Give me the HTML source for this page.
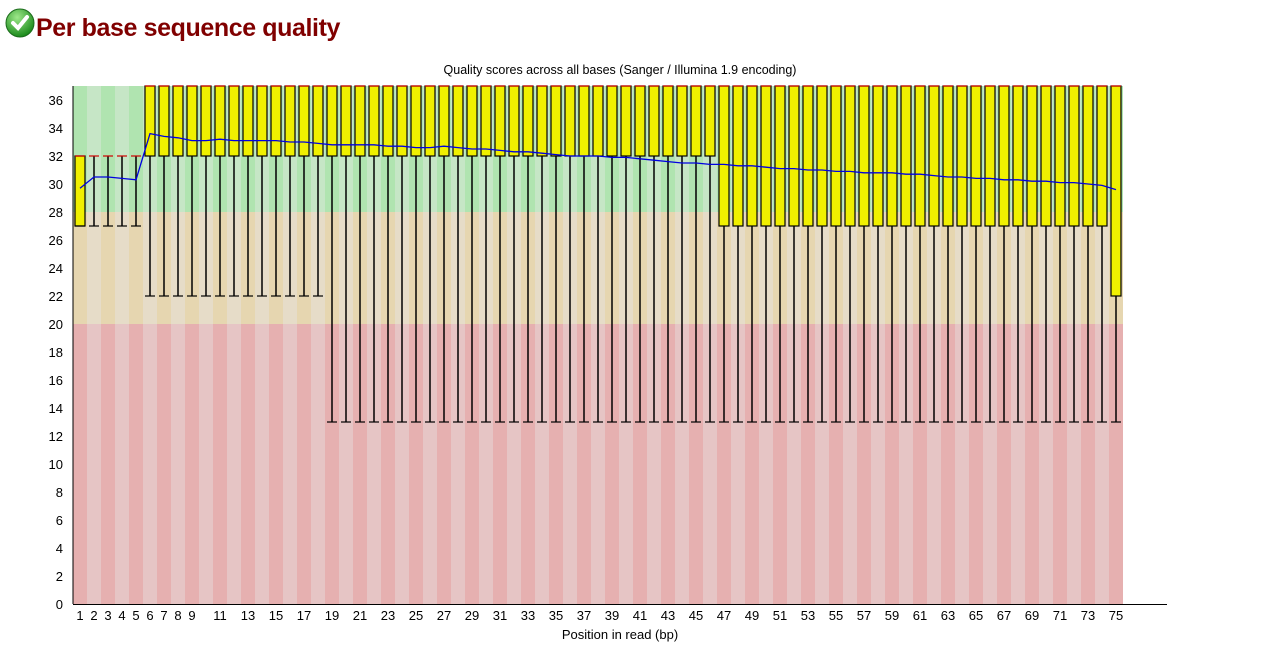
<!DOCTYPE html>
<html><head><meta charset="utf-8"><style>
body{margin:0;background:#fff;width:1272px;height:657px;overflow:hidden;font-family:"Liberation Sans",sans-serif}
h2{position:absolute;left:36px;top:14px;margin:0;font-size:25px;color:#800000;font-weight:bold;letter-spacing:-0.4px}
</style></head><body>
<svg style="position:absolute;left:5px;top:8px" width="30" height="30" viewBox="0 0 30 30">
<defs><radialGradient id="g" cx="0.4" cy="0.3" r="0.7"><stop offset="0" stop-color="#9ee88a"/><stop offset="1" stop-color="#1a8a1a"/></radialGradient></defs>
<circle cx="15" cy="15" r="14" fill="url(#g)" stroke="#1b6b1b"/>
<path d="M8 15 L13 20 L22 9" stroke="#fff" stroke-width="4" fill="none" stroke-linecap="round"/>
</svg>
<h2>Per base sequence quality</h2>
<svg id="c" style="position:absolute;left:0;top:0" width="1272" height="657"></svg>
<script>
const positions=[];for(let i=1;i<=75;i++)positions.push(i);
const median=[32,32,32,32,32].concat(Array(70).fill(37));
const q1=[27,32,32,32,32].concat(Array(41).fill(32),Array(28).fill(27),[22]);
const q3=[32,32,32,32,32].concat(Array(70).fill(37));
const lowWhisk=[27,27,27,27,27].concat(Array(13).fill(22),Array(57).fill(13));
const highWhisk=[32,32,32,32,32].concat(Array(70).fill(37));
const means=[29.7,30.5,30.5,30.4,30.3,33.6,33.4,33.3,33.1,33.1,33.2,33.1,33.1,33.1,33.1,33.0,33.0,32.9,32.8,32.8,32.8,32.8,32.7,32.7,32.6,32.6,32.7,32.6,32.5,32.5,32.4,32.3,32.3,32.2,32.1,32.0,32.0,32.0,31.9,31.9,31.8,31.7,31.6,31.5,31.5,31.4,31.4,31.3,31.3,31.2,31.1,31.1,31.0,31.0,30.9,30.9,30.8,30.8,30.8,30.7,30.7,30.6,30.5,30.5,30.4,30.4,30.3,30.3,30.2,30.2,30.1,30.1,30.0,29.9,29.6];
const yTicks=[0,2,4,6,8,10,12,14,16,18,20,22,24,26,28,30,32,34,36];
const xTickLabels=[1,2,3,4,5,6,7,8,9,11,13,15,17,19,21,23,25,27,29,31,33,35,37,39,41,43,45,47,49,51,53,55,57,59,61,63,65,67,69,71,73,75];
const L=73,BW=14,Y0=604,PU=14,TOP=37;
const X=p=>L+(p-1)*BW, XC=p=>X(p)+7, Y=v=>Y0-v*PU;
const svg=document.getElementById('c');const NS='http://www.w3.org/2000/svg';
function mk(t,a,parent){const e=document.createElementNS(NS,t);for(const k in a)e.setAttribute(k,a[k]);(parent||svg).appendChild(e);return e;}
const zones=[[28,TOP,'#b0e4b0','#c6e6c6'],[20,28,'#e6d6b0','#e6dcc8'],[0,20,'#e6b0b0','#e6c5c5']];
positions.forEach((p,i)=>{zones.forEach(z=>{
const r=mk('rect',{x:X(p),y:Y(z[1]),width:BW,height:(z[1]-z[0])*PU,fill:i%2?z[3]:z[2]});


});});
positions.forEach((p,i)=>{
const g=mk('g',{});


mk('line',{x1:XC(p),x2:XC(p),y1:Y(lowWhisk[i]),y2:Y(highWhisk[i]),stroke:'#000','stroke-width':1.5},g);
if(q3[i]>q1[i])mk('rect',{x:X(p)+2,y:Y(q3[i]),width:10,height:(q3[i]-q1[i])*PU,fill:'#f0f000',stroke:'#000','stroke-width':1.2},g);
mk('line',{x1:X(p)+2,x2:X(p)+12,y1:Y(lowWhisk[i]),y2:Y(lowWhisk[i]),stroke:'#000','stroke-width':1.2},g);
mk('line',{x1:X(p)+2,x2:X(p)+12,y1:Y(median[i]),y2:Y(median[i]),stroke:'#d00000','stroke-width':1.2},g);
});
const ml=mk('polyline',{points:positions.map((p,i)=>XC(p)+','+Y(means[i])).join(' '),fill:'none',stroke:'#0000e0','stroke-width':1.3});


mk('line',{x1:L,x2:L,y1:Y(TOP),y2:Y0,stroke:'#000'});
mk('line',{x1:L,x2:1167,y1:Y0+0.5,y2:Y0+0.5,stroke:'#000'});
yTicks.forEach(v=>{const t=mk('text',{x:63,y:Y(v)+5,'text-anchor':'end','font-size':13,fill:'#000'});t.textContent=v;

});
xTickLabels.forEach(v=>{const t=mk('text',{x:XC(v),y:620,'text-anchor':'middle','font-size':13,fill:'#000'});t.textContent=v;

});
const tt=mk('text',{x:620,y:74,'text-anchor':'middle','font-size':12.5});tt.textContent='Quality scores across all bases (Sanger / Illumina 1.9 encoding)';


const xl=mk('text',{x:620,y:639,'text-anchor':'middle','font-size':13});xl.textContent='Position in read (bp)';


</script>
</body></html>
